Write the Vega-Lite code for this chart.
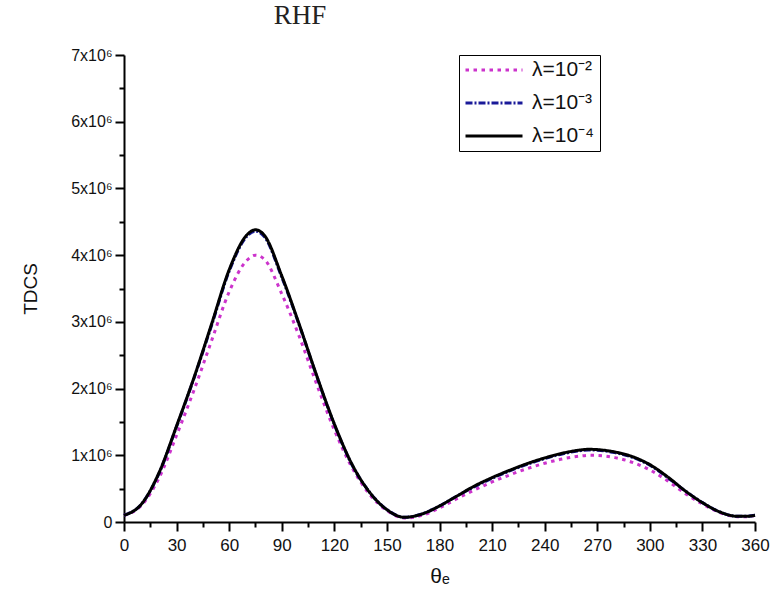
{
  "$schema": "https://vega.github.io/schema/vega-lite/v6.json",
  "width": 631,
  "height": 467,
  "autosize": {"type": "none"},
  "padding": {"left": 124, "top": 55, "right": 16, "bottom": 82},
  "background": "white",
  "title": {
    "text": "RHF",
    "font": "Liberation Serif",
    "fontSize": 27,
    "fontWeight": "normal",
    "color": "#222",
    "anchor": "start",
    "dx": 252,
    "offset": 17
  },
  "config": {
    "view": {"stroke": null},
    "axis": {
      "grid": false,
      "domainColor": "black",
      "domainWidth": 2,
      "tickColor": "black",
      "tickWidth": 2,
      "labelFont": "Liberation Sans",
      "labelFontSize": 16,
      "labelColor": "#111",
      "titleFont": "Liberation Sans",
      "titleFontWeight": "normal",
      "titleColor": "#111"
    }
  },
  "data": {
    "values": [
      {"theta": 0, "tdcs": 100000, "series": "λ=10⁻²"},
      {"theta": 10, "tdcs": 250000, "series": "λ=10⁻²"},
      {"theta": 20, "tdcs": 660000, "series": "λ=10⁻²"},
      {"theta": 30, "tdcs": 1300000, "series": "λ=10⁻²"},
      {"theta": 40, "tdcs": 1980000, "series": "λ=10⁻²"},
      {"theta": 50, "tdcs": 2720000, "series": "λ=10⁻²"},
      {"theta": 60, "tdcs": 3450000, "series": "λ=10⁻²"},
      {"theta": 70, "tdcs": 3920000, "series": "λ=10⁻²"},
      {"theta": 75, "tdcs": 4000000, "series": "λ=10⁻²"},
      {"theta": 80, "tdcs": 3940000, "series": "λ=10⁻²"},
      {"theta": 90, "tdcs": 3420000, "series": "λ=10⁻²"},
      {"theta": 100, "tdcs": 2780000, "series": "λ=10⁻²"},
      {"theta": 110, "tdcs": 2060000, "series": "λ=10⁻²"},
      {"theta": 120, "tdcs": 1380000, "series": "λ=10⁻²"},
      {"theta": 130, "tdcs": 820000, "series": "λ=10⁻²"},
      {"theta": 140, "tdcs": 420000, "series": "λ=10⁻²"},
      {"theta": 150, "tdcs": 170000, "series": "λ=10⁻²"},
      {"theta": 160, "tdcs": 60000, "series": "λ=10⁻²"},
      {"theta": 170, "tdcs": 100000, "series": "λ=10⁻²"},
      {"theta": 180, "tdcs": 210000, "series": "λ=10⁻²"},
      {"theta": 190, "tdcs": 350000, "series": "λ=10⁻²"},
      {"theta": 200, "tdcs": 480000, "series": "λ=10⁻²"},
      {"theta": 210, "tdcs": 600000, "series": "λ=10⁻²"},
      {"theta": 220, "tdcs": 705000, "series": "λ=10⁻²"},
      {"theta": 230, "tdcs": 800000, "series": "λ=10⁻²"},
      {"theta": 240, "tdcs": 880000, "series": "λ=10⁻²"},
      {"theta": 250, "tdcs": 945000, "series": "λ=10⁻²"},
      {"theta": 260, "tdcs": 988000, "series": "λ=10⁻²"},
      {"theta": 265, "tdcs": 1000000, "series": "λ=10⁻²"},
      {"theta": 270, "tdcs": 998000, "series": "λ=10⁻²"},
      {"theta": 280, "tdcs": 965000, "series": "λ=10⁻²"},
      {"theta": 290, "tdcs": 895000, "series": "λ=10⁻²"},
      {"theta": 300, "tdcs": 780000, "series": "λ=10⁻²"},
      {"theta": 310, "tdcs": 620000, "series": "λ=10⁻²"},
      {"theta": 320, "tdcs": 430000, "series": "λ=10⁻²"},
      {"theta": 330, "tdcs": 270000, "series": "λ=10⁻²"},
      {"theta": 340, "tdcs": 140000, "series": "λ=10⁻²"},
      {"theta": 350, "tdcs": 80000, "series": "λ=10⁻²"},
      {"theta": 355, "tdcs": 80000, "series": "λ=10⁻²"},
      {"theta": 360, "tdcs": 100000, "series": "λ=10⁻²"},
      {"theta": 0, "tdcs": 100000, "series": "λ=10⁻³"},
      {"theta": 10, "tdcs": 270000, "series": "λ=10⁻³"},
      {"theta": 20, "tdcs": 730000, "series": "λ=10⁻³"},
      {"theta": 30, "tdcs": 1430000, "series": "λ=10⁻³"},
      {"theta": 40, "tdcs": 2160000, "series": "λ=10⁻³"},
      {"theta": 50, "tdcs": 2950000, "series": "λ=10⁻³"},
      {"theta": 60, "tdcs": 3760000, "series": "λ=10⁻³"},
      {"theta": 70, "tdcs": 4280000, "series": "λ=10⁻³"},
      {"theta": 75, "tdcs": 4360000, "series": "λ=10⁻³"},
      {"theta": 80, "tdcs": 4280000, "series": "λ=10⁻³"},
      {"theta": 90, "tdcs": 3670000, "series": "λ=10⁻³"},
      {"theta": 100, "tdcs": 2950000, "series": "λ=10⁻³"},
      {"theta": 110, "tdcs": 2180000, "series": "λ=10⁻³"},
      {"theta": 120, "tdcs": 1460000, "series": "λ=10⁻³"},
      {"theta": 130, "tdcs": 860000, "series": "λ=10⁻³"},
      {"theta": 140, "tdcs": 450000, "series": "λ=10⁻³"},
      {"theta": 150, "tdcs": 185000, "series": "λ=10⁻³"},
      {"theta": 160, "tdcs": 70000, "series": "λ=10⁻³"},
      {"theta": 170, "tdcs": 120000, "series": "λ=10⁻³"},
      {"theta": 180, "tdcs": 240000, "series": "λ=10⁻³"},
      {"theta": 190, "tdcs": 390000, "series": "λ=10⁻³"},
      {"theta": 200, "tdcs": 530000, "series": "λ=10⁻³"},
      {"theta": 210, "tdcs": 655000, "series": "λ=10⁻³"},
      {"theta": 220, "tdcs": 765000, "series": "λ=10⁻³"},
      {"theta": 230, "tdcs": 865000, "series": "λ=10⁻³"},
      {"theta": 240, "tdcs": 950000, "series": "λ=10⁻³"},
      {"theta": 250, "tdcs": 1020000, "series": "λ=10⁻³"},
      {"theta": 260, "tdcs": 1068000, "series": "λ=10⁻³"},
      {"theta": 265, "tdcs": 1080000, "series": "λ=10⁻³"},
      {"theta": 270, "tdcs": 1075000, "series": "λ=10⁻³"},
      {"theta": 280, "tdcs": 1040000, "series": "λ=10⁻³"},
      {"theta": 290, "tdcs": 970000, "series": "λ=10⁻³"},
      {"theta": 300, "tdcs": 850000, "series": "λ=10⁻³"},
      {"theta": 310, "tdcs": 670000, "series": "λ=10⁻³"},
      {"theta": 320, "tdcs": 470000, "series": "λ=10⁻³"},
      {"theta": 330, "tdcs": 290000, "series": "λ=10⁻³"},
      {"theta": 340, "tdcs": 150000, "series": "λ=10⁻³"},
      {"theta": 350, "tdcs": 85000, "series": "λ=10⁻³"},
      {"theta": 355, "tdcs": 85000, "series": "λ=10⁻³"},
      {"theta": 360, "tdcs": 100000, "series": "λ=10⁻³"},
      {"theta": 0, "tdcs": 100000, "series": "λ=10⁻⁴"},
      {"theta": 10, "tdcs": 270000, "series": "λ=10⁻⁴"},
      {"theta": 20, "tdcs": 740000, "series": "λ=10⁻⁴"},
      {"theta": 30, "tdcs": 1440000, "series": "λ=10⁻⁴"},
      {"theta": 40, "tdcs": 2170000, "series": "λ=10⁻⁴"},
      {"theta": 50, "tdcs": 2970000, "series": "λ=10⁻⁴"},
      {"theta": 60, "tdcs": 3780000, "series": "λ=10⁻⁴"},
      {"theta": 70, "tdcs": 4300000, "series": "λ=10⁻⁴"},
      {"theta": 75, "tdcs": 4380000, "series": "λ=10⁻⁴"},
      {"theta": 80, "tdcs": 4300000, "series": "λ=10⁻⁴"},
      {"theta": 90, "tdcs": 3690000, "series": "λ=10⁻⁴"},
      {"theta": 100, "tdcs": 2960000, "series": "λ=10⁻⁴"},
      {"theta": 110, "tdcs": 2190000, "series": "λ=10⁻⁴"},
      {"theta": 120, "tdcs": 1470000, "series": "λ=10⁻⁴"},
      {"theta": 130, "tdcs": 870000, "series": "λ=10⁻⁴"},
      {"theta": 140, "tdcs": 450000, "series": "λ=10⁻⁴"},
      {"theta": 150, "tdcs": 185000, "series": "λ=10⁻⁴"},
      {"theta": 160, "tdcs": 70000, "series": "λ=10⁻⁴"},
      {"theta": 170, "tdcs": 120000, "series": "λ=10⁻⁴"},
      {"theta": 180, "tdcs": 240000, "series": "λ=10⁻⁴"},
      {"theta": 190, "tdcs": 390000, "series": "λ=10⁻⁴"},
      {"theta": 200, "tdcs": 540000, "series": "λ=10⁻⁴"},
      {"theta": 210, "tdcs": 665000, "series": "λ=10⁻⁴"},
      {"theta": 220, "tdcs": 775000, "series": "λ=10⁻⁴"},
      {"theta": 230, "tdcs": 875000, "series": "λ=10⁻⁴"},
      {"theta": 240, "tdcs": 960000, "series": "λ=10⁻⁴"},
      {"theta": 250, "tdcs": 1030000, "series": "λ=10⁻⁴"},
      {"theta": 260, "tdcs": 1078000, "series": "λ=10⁻⁴"},
      {"theta": 265, "tdcs": 1090000, "series": "λ=10⁻⁴"},
      {"theta": 270, "tdcs": 1085000, "series": "λ=10⁻⁴"},
      {"theta": 280, "tdcs": 1050000, "series": "λ=10⁻⁴"},
      {"theta": 290, "tdcs": 980000, "series": "λ=10⁻⁴"},
      {"theta": 300, "tdcs": 860000, "series": "λ=10⁻⁴"},
      {"theta": 310, "tdcs": 680000, "series": "λ=10⁻⁴"},
      {"theta": 320, "tdcs": 470000, "series": "λ=10⁻⁴"},
      {"theta": 330, "tdcs": 290000, "series": "λ=10⁻⁴"},
      {"theta": 340, "tdcs": 150000, "series": "λ=10⁻⁴"},
      {"theta": 350, "tdcs": 85000, "series": "λ=10⁻⁴"},
      {"theta": 355, "tdcs": 85000, "series": "λ=10⁻⁴"},
      {"theta": 360, "tdcs": 100000, "series": "λ=10⁻⁴"}
    ]
  },
  "mark": {"type": "line", "interpolate": "monotone", "strokeWidth": 3},
  "encoding": {
    "x": {
      "field": "theta",
      "type": "quantitative",
      "scale": {"domain": [0, 360], "nice": false},
      "axis": {
        "title": "θₑ",
        "titleFontSize": 21,
        "titlePadding": 12,
        "values": [0, 15, 30, 45, 60, 75, 90, 105, 120, 135, 150, 165, 180, 195, 210, 225, 240, 255, 270, 285, 300, 315, 330, 345, 360],
        "labelExpr": "datum.value % 30 === 0 ? datum.label : ''",
        "tickSize": {"condition": {"test": "datum.value % 30 === 0", "value": 9}, "value": 5},
        "labelPadding": 6,
        "labelFontSize": 17,
        "labelFlush": false,
        "labelOverlap": false
      }
    },
    "y": {
      "field": "tdcs",
      "type": "quantitative",
      "scale": {"domain": [0, 7000000], "nice": false},
      "axis": {
        "title": "TDCS",
        "titleFontSize": 19,
        "titlePadding": 30,
        "values": [0, 500000, 1000000, 1500000, 2000000, 2500000, 3000000, 3500000, 4000000, 4500000, 5000000, 5500000, 6000000, 6500000, 7000000],
        "labelExpr": "datum.value === 0 ? '0' : (datum.value % 1000000 === 0 ? (datum.value / 1000000) + 'x10⁶' : '')",
        "tickSize": {"condition": {"test": "datum.value % 1000000 === 0", "value": 9}, "value": 5},
        "labelPadding": 3,
        "labelFlush": false,
        "labelOverlap": false
      }
    },
    "color": {
      "field": "series",
      "type": "nominal",
      "scale": {"domain": ["λ=10⁻²", "λ=10⁻³", "λ=10⁻⁴"], "range": ["#cc33cc", "#1a1a99", "#000000"]},
      "legend": {
        "title": null,
        "orient": "none",
        "legendX": 335,
        "legendY": 0,
        "strokeColor": "black",
        "padding": 5,
        "fillColor": "white",
        "symbolType": "stroke",
        "symbolSize": 3249,
        "symbolStrokeWidth": 3,
        "clipHeight": 20,
        "labelFont": "Liberation Sans",
        "labelFontSize": 21,
        "labelColor": "#111",
        "rowPadding": 12,
        "labelOffset": 8
      }
    },
    "strokeDash": {
      "field": "series",
      "type": "nominal",
      "scale": {"domain": ["λ=10⁻²", "λ=10⁻³", "λ=10⁻⁴"], "range": [[3.5, 4.5], [7, 2, 2, 2], [1, 0]]},
      "legend": null
    }
  }
}
